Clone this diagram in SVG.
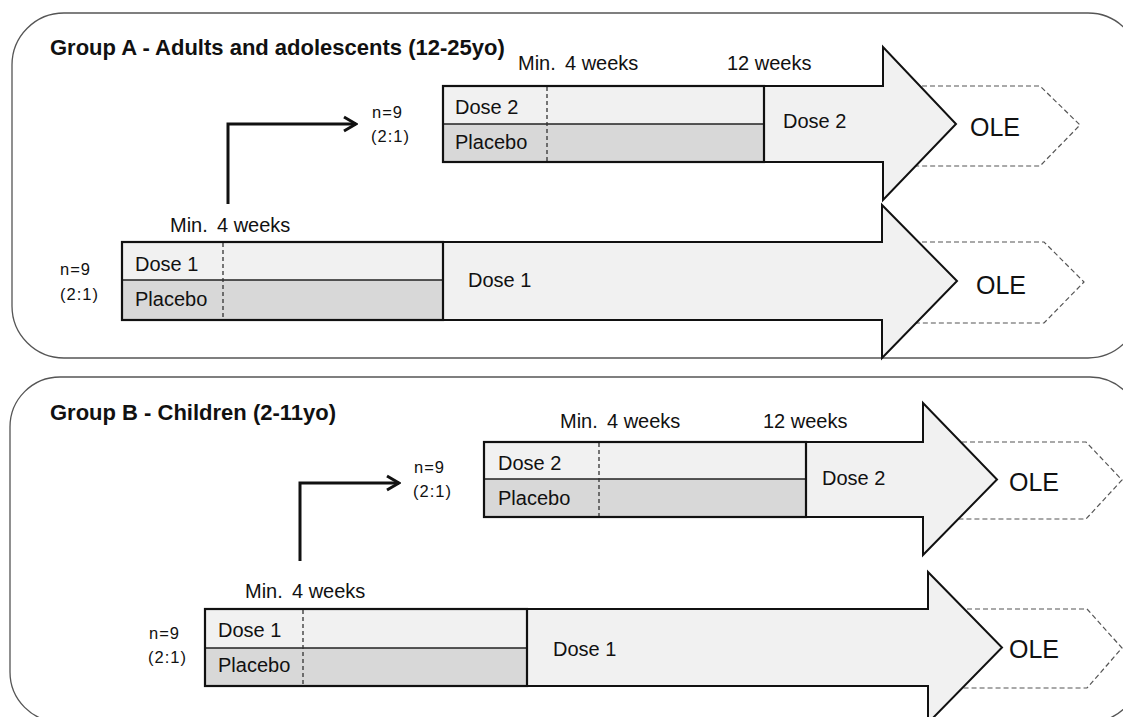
<svg xmlns="http://www.w3.org/2000/svg" width="1123" height="717" viewBox="0 0 1123 717">
<defs>
<style>
.panel{fill:#fff;stroke:#555;stroke-width:1.3}
.ole{fill:#fff;stroke:#555;stroke-width:1.2;stroke-dasharray:5 3}
.arrow{fill:#f1f1f1;stroke:#111;stroke-width:2;stroke-linejoin:miter}
.top{fill:#f1f1f1}
.bot{fill:#d8d8d8}
.frame{fill:none;stroke:#111;stroke-width:2.2}
.mid{stroke:#222;stroke-width:1.6}
.dash{stroke:#333;stroke-width:1.3;stroke-dasharray:4 3}
.t{font-family:"Liberation Sans",Arial,sans-serif;font-size:20px;fill:#111}
.n{font-family:"Liberation Sans",Arial,sans-serif;font-size:16.5px;fill:#111;letter-spacing:1px}
.ttl{font-family:"Liberation Sans",Arial,sans-serif;font-size:22px;font-weight:bold;fill:#111}
.olet{font-family:"Liberation Sans",Arial,sans-serif;font-size:25px;fill:#111}
.conn{fill:none;stroke:#111;stroke-width:3}
</style>
<marker id="chev" viewBox="0 0 18 18" refX="16" refY="9" markerWidth="18" markerHeight="18" markerUnits="userSpaceOnUse" orient="auto">
<path d="M4,2 L16,9 L4,16" fill="none" stroke="#111" stroke-width="3"/>
</marker>
</defs>

<g id="panelA">
<rect class="panel" x="12" y="13" width="1128" height="345" rx="52" ry="52"/>
<text class="ttl" x="50" y="55">Group A - Adults and adolescents (12-25yo)</text>
</g>

<g id="A-ole-upper">
<polygon class="ole" points="890,86 1040,86 1080,125 1040,166 890,166"/>
<text class="olet" x="970" y="136">OLE</text>
</g>
<g id="A-ole-lower">
<polygon class="ole" points="890,242 1044,242 1084,282 1044,323 890,323"/>
<text class="olet" x="976" y="294">OLE</text>
</g>

<g id="A-dose2">
<polygon class="arrow" points="443,86 883,86 883,47 956,124 883,200 883,162 443,162"/>
<rect class="top" x="443" y="86" width="321" height="38"/>
<rect class="bot" x="443" y="124" width="321" height="38"/>
<line class="mid" x1="443" y1="124" x2="764" y2="124"/>
<line class="dash" x1="547" y1="87" x2="547" y2="161"/>
<rect class="frame" x="443" y="86" width="321" height="76"/>
<text class="t" x="518" y="70">Min.<tspan x="565">4 weeks</tspan></text>
<text class="t" x="727" y="70">12 weeks</text>
<text class="t" x="455" y="114">Dose 2</text>
<text class="t" x="455" y="149">Placebo</text>
<text class="t" x="783" y="128">Dose 2</text>
<text class="n" x="372" y="118">n=9</text>
<text class="n" x="371" y="142">(2:1)</text>
</g>

<g id="A-dose1">
<polygon class="arrow" points="122,242 882,242 882,205 957,281 882,358 882,320 122,320"/>
<rect class="top" x="122" y="242" width="321" height="38"/>
<rect class="bot" x="122" y="280" width="321" height="40"/>
<line class="mid" x1="122" y1="280" x2="443" y2="280"/>
<line class="dash" x1="223" y1="243" x2="223" y2="319"/>
<rect class="frame" x="122" y="242" width="321" height="78"/>
<text class="t" x="170" y="232">Min.<tspan x="217">4 weeks</tspan></text>
<text class="t" x="135" y="271">Dose 1</text>
<text class="t" x="135" y="306">Placebo</text>
<text class="t" x="468" y="287">Dose 1</text>
<text class="n" x="60" y="275">n=9</text>
<text class="n" x="60" y="300">(2:1)</text>
</g>

<g id="panelB">
<rect class="panel" x="10" y="377" width="1130" height="345" rx="50" ry="50"/>
<text class="ttl" x="50" y="420">Group B - Children (2-11yo)</text>
</g>

<g id="B-ole-upper">
<polygon class="ole" points="930,442 1086,442 1122,480 1086,519 930,519"/>
<text class="olet" x="1009" y="491">OLE</text>
</g>
<g id="B-ole-lower">
<polygon class="ole" points="935,609 1087,609 1122,648 1087,688 935,688"/>
<text class="olet" x="1009" y="658">OLE</text>
</g>

<g id="B-dose2">
<polygon class="arrow" points="484,442 923,442 923,403 997,479.5 923,555 923,517 484,517"/>
<rect class="top" x="484" y="442" width="322" height="37"/>
<rect class="bot" x="484" y="479" width="322" height="38"/>
<line class="mid" x1="484" y1="479" x2="806" y2="479"/>
<line class="dash" x1="599" y1="443" x2="599" y2="516"/>
<rect class="frame" x="484" y="442" width="322" height="75"/>
<text class="t" x="560" y="428">Min.<tspan x="607">4 weeks</tspan></text>
<text class="t" x="763" y="428">12 weeks</text>
<text class="t" x="498" y="470">Dose 2</text>
<text class="t" x="498" y="505">Placebo</text>
<text class="t" x="822" y="485">Dose 2</text>
<text class="n" x="414" y="473">n=9</text>
<text class="n" x="413" y="497">(2:1)</text>
</g>

<g id="B-dose1">
<polygon class="arrow" points="205,609 928,609 928,572 1002,647.5 928,723 928,686 205,686"/>
<rect class="top" x="205" y="609" width="322" height="39"/>
<rect class="bot" x="205" y="648" width="322" height="38"/>
<line class="mid" x1="205" y1="648" x2="527" y2="648"/>
<line class="dash" x1="303" y1="610" x2="303" y2="685"/>
<rect class="frame" x="205" y="609" width="322" height="77"/>
<text class="t" x="245" y="598">Min.<tspan x="292">4 weeks</tspan></text>
<text class="t" x="218" y="637">Dose 1</text>
<text class="t" x="218" y="672">Placebo</text>
<text class="t" x="553" y="656">Dose 1</text>
<text class="n" x="149" y="639">n=9</text>
<text class="n" x="148" y="663">(2:1)</text>
</g>

<g id="connectors">
<path class="conn" d="M228,204 V124 H356" marker-end="url(#chev)"/>
<path class="conn" d="M300,561 V483 H399" marker-end="url(#chev)"/>
</g>
</svg>
